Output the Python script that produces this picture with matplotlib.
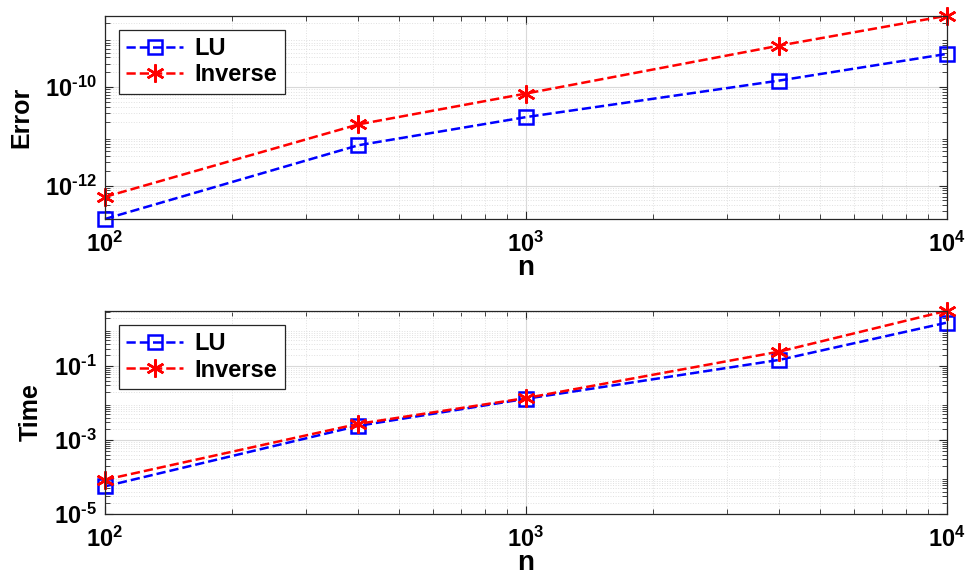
import math
import matplotlib
matplotlib.use("Agg")
import matplotlib.pyplot as plt
from matplotlib.ticker import LogLocator, NullFormatter

# ---------------------------------------------
# Data
n_vals = [100, 400, 1000, 4000, 10000]

err_lu = [2.1e-13, 6.6e-12, 2.46e-11, 1.36e-10, 4.73e-10]
err_inv = [5.9e-13, 1.75e-11, 7.4e-11, 6.97e-10, 2.82e-9]

time_lu = [5.6e-5, 2.43e-3, 1.31e-2, 0.148, 1.51]
time_inv = [8.45e-5, 2.75e-3, 1.37e-2, 0.248, 3.16]

series_names = ["LU", "Inverse"]

plt.rcParams['font.family'] = ['Liberation Sans', 'DejaVu Sans']
plt.rcParams['font.weight'] = 'bold'
plt.rcParams['mathtext.fontset'] = 'custom'
plt.rcParams['mathtext.rm'] = 'Liberation Sans:bold'
plt.rcParams['mathtext.bf'] = 'Liberation Sans:bold'
plt.rcParams['mathtext.default'] = 'bf'
plt.rcParams['axes.unicode_minus'] = False

fig = plt.figure(figsize=(9.66, 5.77), dpi=100)
ax1 = fig.add_axes([0.1087, 0.6205, 0.8716, 0.3523])
ax2 = fig.add_axes([0.1087, 0.1092, 0.8716, 0.3523])

asterisk = (6, 2, 0)


def exp_label(v):
    return r'$\mathbf{10^{%s}}$' % str(round(math.log10(v))).replace('-', '\\text{-}')


def style_axis(ax, ylabel, ylim, yticks):
    ax.set_xscale('log')
    ax.set_yscale('log')
    ax.set_xlim(100, 10000)
    ax.set_ylim(*ylim)
    ax.set_xticks([1e2, 1e3, 1e4])
    ax.set_xticklabels([exp_label(t) for t in [1e2, 1e3, 1e4]])
    ax.set_yticks(yticks)
    ax.set_yticklabels([exp_label(t) for t in yticks])
    ax.xaxis.set_minor_locator(LogLocator(base=10, subs=range(2, 10), numticks=20))
    ax.yaxis.set_minor_locator(LogLocator(base=10, subs=range(2, 10), numticks=40))
    ax.xaxis.set_minor_formatter(NullFormatter())
    ax.yaxis.set_minor_formatter(NullFormatter())
    ax.tick_params(which='both', direction='in', top=True, right=True, color='#262626')
    ax.tick_params(which='major', length=6, width=0.8, labelsize=17, pad=6)
    ax.tick_params(axis='x', which='major', pad=9)
    ax.tick_params(which='minor', length=3.5, width=0.6)
    ax.grid(True, which='major', color='#d9d9d9', linewidth=0.8)
    ax.grid(True, which='minor', color='#e0e0e0', linestyle=':', linewidth=0.7)
    ax.set_axisbelow(True)
    for sp in ax.spines.values():
        sp.set_color('#262626')
        sp.set_linewidth(0.9)
    ax.set_xlabel('n', fontsize=20, fontweight='bold', labelpad=-1)
    ax.set_ylabel(ylabel, fontsize=18, fontweight='bold', labelpad=8)
    leg = ax.legend(loc='upper left', fontsize=17, fancybox=False, framealpha=1,
                    edgecolor='#262626', handlelength=2.4, borderaxespad=0.6,
                    labelspacing=0.15, handletextpad=0.5, borderpad=0.3)
    leg.get_frame().set_linewidth(0.9)


ax1.plot(n_vals, err_lu, '--', color='#0000ff', marker='s', markersize=10,
         markerfacecolor='none', markeredgewidth=1.8, linewidth=1.8, label=series_names[0],
         clip_on=False)
ax1.plot(n_vals, err_inv, '--', color='#ff0000', marker=asterisk, markersize=13,
         markeredgewidth=1.8, linewidth=1.8, label=series_names[1], clip_on=False)
style_axis(ax1, 'Error', (min(err_lu), max(err_inv)), [1e-12, 1e-10])

ax2.plot(n_vals, time_lu, '--', color='#0000ff', marker='s', markersize=10,
         markerfacecolor='none', markeredgewidth=1.8, linewidth=1.8, label=series_names[0],
         clip_on=False)
ax2.plot(n_vals, time_inv, '--', color='#ff0000', marker=asterisk, markersize=13,
         markeredgewidth=1.8, linewidth=1.8, label=series_names[1], clip_on=False)
style_axis(ax2, 'Time', (1e-5, max(time_inv)), [1e-5, 1e-3, 1e-1])

fig.savefig('out.png', dpi=100)
